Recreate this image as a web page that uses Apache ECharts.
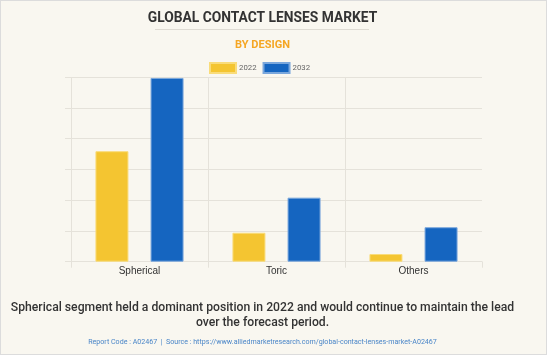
<!DOCTYPE html>
<html><head><meta charset="utf-8">
<script src="https://cdn.jsdelivr.net/npm/echarts@6/dist/echarts.min.js"></script>
<style>
html,body{margin:0;padding:0;background:#f9f7f0;}
#c{width:547px;height:355px;box-sizing:border-box;border:1px solid #dcdcdc;}
</style></head>
<body><div id="c"></div>
<script>
const categories = ['Spherical', 'Toric', 'Others'];
const seriesNames = ['2022', '2032'];
const values2022 = [3.59, 0.94, 0.25];
const values2032 = [5.97, 2.08, 1.12];
const titleText = 'GLOBAL CONTACT LENSES MARKET';
const subtitleText = 'BY DESIGN';
const captionLines = ['Spherical segment held a dominant position in 2022 and would continue to maintain the lead', 'over the forecast period.'];
const footerText = 'Report Code : A02467  |  Source : https://www.alliedmarketresearch.com/global-contact-lenses-market-A02467';

const chart = echarts.init(document.getElementById('c'), null, {renderer: 'canvas'});
const grid = '#e5e2da';
const ff = 'Roboto, Liberation Sans, Arial';
const cx = 261.5;
function txt(text, y, size, weight, fill) {
  return {type: 'text', x: cx, y: y,
    style: {text: text, fontFamily: ff, fontSize: size, fontWeight: weight, fill: fill, align: 'center', verticalAlign: 'middle'}};
}
chart.setOption({
  backgroundColor: '#f9f7f0',
  animation: false,
  legend: {
    top: 56, left: 203, itemWidth: 26, itemHeight: 10, itemGap: 6,
    icon: 'rect',
    textStyle: {fontFamily: ff, fontSize: 7.8, color: '#666666', padding: [0, 0, 0, -2]},
    data: seriesNames
  },
  grid: {left: 70, right: 64, top: 76, height: 184.7, containLabel: false},
  xAxis: {
    type: 'category', data: categories,
    axisLine: {show: true, lineStyle: {color: grid}},
    axisTick: {show: true, length: 6, lineStyle: {color: grid}},
    splitLine: {show: true, lineStyle: {color: [grid, grid, grid, 'rgba(0,0,0,0)']}},
    axisLabel: {fontFamily: 'Liberation Sans, Arial', fontSize: 10, color: '#333333', margin: 5}
  },
  yAxis: {
    type: 'value', min: 0, max: 6, interval: 1,
    axisLine: {show: false},
    axisTick: {show: true, length: 6, lineStyle: {color: grid}},
    axisLabel: {show: false},
    splitLine: {show: true, lineStyle: {color: grid}}
  },
  series: [{
    name: seriesNames[0], type: 'bar', data: values2022, barWidth: 33, barGap: '67%',
    itemStyle: {color: '#f4c531', borderColor: '#f9dc7a', borderWidth: 1}
  }, {
    name: seriesNames[1], type: 'bar', data: values2032, barWidth: 33,
    itemStyle: {color: '#1565c0', borderColor: '#7aa7dc', borderWidth: 1}
  }],
  graphic: [
    txt(titleText, 17.7, 13.8, 'bold', '#333333'),
    {type: 'line', shape: {x1: 154, y1: 28.5, x2: 368, y2: 28.5}, style: {stroke: '#dedbd3', lineWidth: 1}},
    txt(subtitleText, 44, 11, 'bold', '#f5a623'),
    txt(captionLines[0], 306.5, 12.2, 500, '#333333'),
    txt(captionLines[1], 321.5, 12.2, 500, '#333333'),
    txt(footerText, 341.7, 7.1, 'normal', '#4a86c8')
  ]
});
</script></body></html>
